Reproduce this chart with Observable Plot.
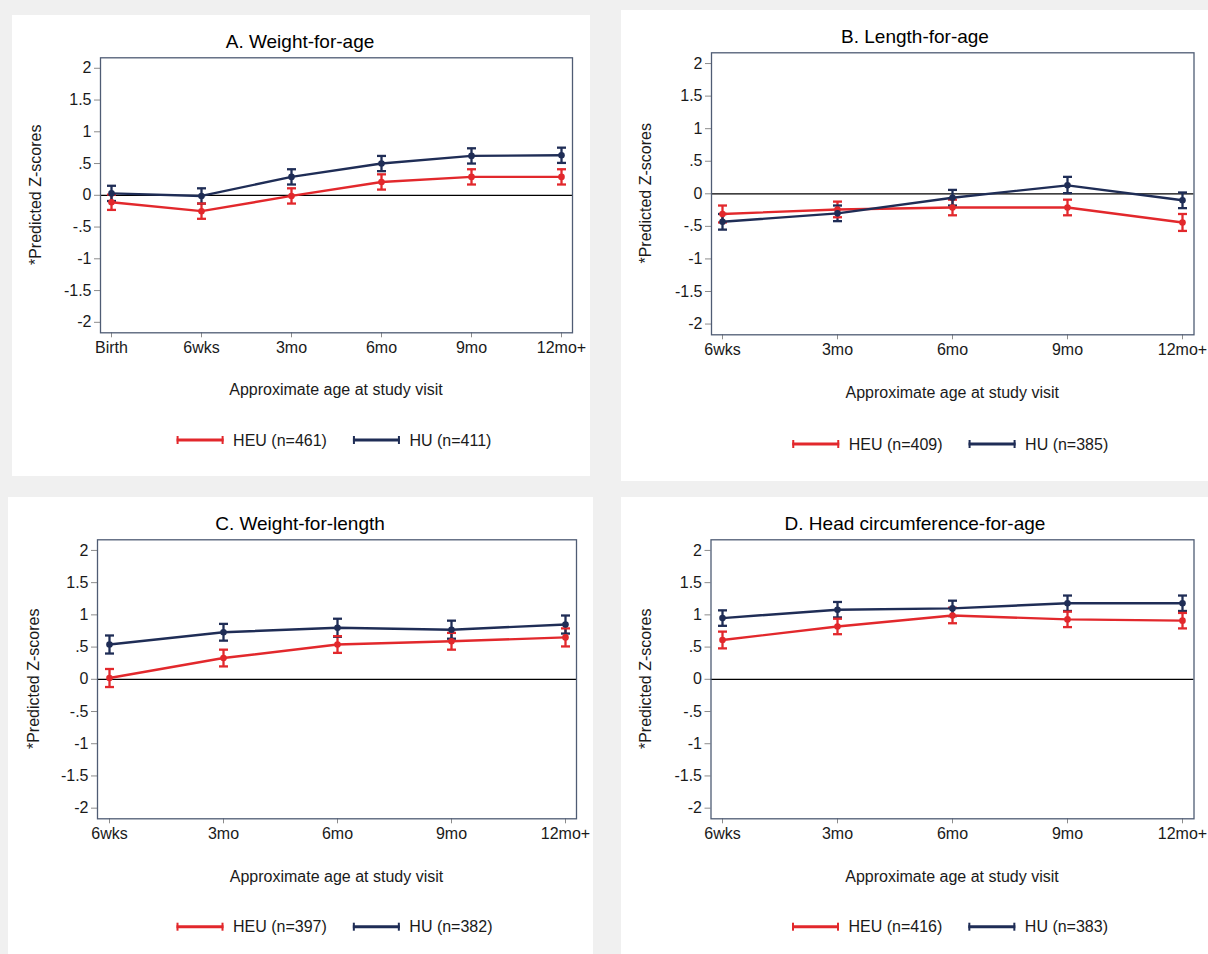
<!DOCTYPE html>
<html><head><meta charset="utf-8">
<script src="https://cdn.jsdelivr.net/npm/d3@7"></script>
<script src="https://cdn.jsdelivr.net/npm/@observablehq/plot@0.6"></script>
<style>
html,body{margin:0;padding:0;background:#f0f0f0;}
#page{position:relative;width:1208px;height:954px;overflow:hidden;background:#f0f0f0;font-family:"Liberation Sans",Arial,sans-serif;}
.card{position:absolute;background:#fff;}
.card svg{display:block;position:absolute;left:0;top:0;}
#overlay{position:absolute;left:0;top:0;pointer-events:none;}
</style></head><body><div id="page"></div>
<script>
// ---------- DATA ----------
const agesA = ["Birth", "6wks", "3mo", "6mo", "9mo", "12mo+"];
const agesBCD = ["6wks", "3mo", "6mo", "9mo", "12mo+"];
const yTicks = [-2, -1.5, -1, -0.5, 0, 0.5, 1, 1.5, 2];
const seriesNames = ["HEU", "HU"];

// A. Weight-for-age
const wfaHEU   = [-0.11, -0.25, -0.01, 0.21, 0.29, 0.29];
const wfaHEUlo = [-0.23, -0.37, -0.13, 0.09, 0.17, 0.17];
const wfaHEUhi = [ 0.01, -0.13,  0.11, 0.33, 0.41, 0.41];
const wfaHU    = [ 0.03, -0.01,  0.29, 0.50, 0.62, 0.63];
const wfaHUlo  = [-0.09, -0.13,  0.17, 0.38, 0.50, 0.51];
const wfaHUhi  = [ 0.15,  0.11,  0.41, 0.62, 0.74, 0.75];
const wfaN = [461, 411];

// B. Length-for-age
const lfaHEU   = [-0.31, -0.24, -0.21, -0.21, -0.44];
const lfaHEUlo = [-0.44, -0.36, -0.33, -0.33, -0.57];
const lfaHEUhi = [-0.18, -0.12, -0.09, -0.09, -0.31];
const lfaHU    = [-0.43, -0.30, -0.06,  0.13, -0.10];
const lfaHUlo  = [-0.55, -0.42, -0.18,  0.01, -0.22];
const lfaHUhi  = [-0.31, -0.18,  0.06,  0.26,  0.02];
const lfaN = [409, 385];

// C. Weight-for-length
const wflHEU   = [ 0.02, 0.33, 0.54, 0.59, 0.65];
const wflHEUlo = [-0.12, 0.20, 0.41, 0.46, 0.51];
const wflHEUhi = [ 0.16, 0.46, 0.67, 0.72, 0.79];
const wflHU    = [ 0.54, 0.73, 0.80, 0.77, 0.85];
const wflHUlo  = [ 0.40, 0.60, 0.66, 0.63, 0.71];
const wflHUhi  = [ 0.68, 0.86, 0.94, 0.91, 0.99];
const wflN = [397, 382];

// D. Head circumference-for-age
const hcaHEU   = [0.61, 0.82, 0.99, 0.93, 0.91];
const hcaHEUlo = [0.48, 0.70, 0.87, 0.81, 0.79];
const hcaHEUhi = [0.74, 0.94, 1.11, 1.05, 1.03];
const hcaHU    = [0.95, 1.08, 1.10, 1.18, 1.18];
const hcaHUlo  = [0.83, 0.96, 0.98, 1.06, 1.06];
const hcaHUhi  = [1.07, 1.20, 1.22, 1.30, 1.30];
const hcaN = [416, 383];

const titles = ["A. Weight-for-age", "B. Length-for-age", "C. Weight-for-length", "D. Head circumference-for-age"];
const xTitle = "Approximate age at study visit";
const yTitle = "*Predicted Z-scores";

// ---------- STYLE / LAYOUT ----------
const RED = "#e2282c", NAVY = "#1f2d56", FRAME = "#4f5c74", TICK = "#8c8c8c", TEXT = "#1a1a1a";
const FONT = "Liberation Sans, Arial, sans-serif";

function rows(ages, vals, lo, hi, s) {
  return ages.map((a, i) => ({age: a, series: s, v: vals[i], lo: lo[i], hi: hi[i]}));
}

const panels = [
  {title: titles[0], ages: agesA, n: wfaN,
   data: [...rows(agesA, wfaHEU, wfaHEUlo, wfaHEUhi, "HEU"), ...rows(agesA, wfaHU, wfaHUlo, wfaHUhi, "HU")],
   card: {x: 12, y: 15, w: 578, h: 461}, frame: {l: 100, r: 572, t: 57.3, b: 332.3}, pad: 0.11,
   titleY: 47.7, titleX: 300, xTitleY: 395, legendY: 440, yLabelX: 41},
  {title: titles[1], ages: agesBCD, n: lfaN,
   data: [...rows(agesBCD, lfaHEU, lfaHEUlo, lfaHEUhi, "HEU"), ...rows(agesBCD, lfaHU, lfaHUlo, lfaHUhi, "HU")],
   card: {x: 621, y: 10, w: 587, h: 471}, frame: {l: 711, r: 1193.5, t: 52.3, b: 334.3}, pad: 0.09,
   titleY: 43.3, titleX: 915, xTitleY: 398, legendY: 444, yLabelX: 651},
  {title: titles[2], ages: agesBCD, n: wflN,
   data: [...rows(agesBCD, wflHEU, wflHEUlo, wflHEUhi, "HEU"), ...rows(agesBCD, wflHU, wflHUlo, wflHUhi, "HU")],
   card: {x: 8, y: 497, w: 585, h: 457}, frame: {l: 97, r: 576, t: 539.3, b: 818.3}, pad: 0.094,
   titleY: 530, titleX: 300, xTitleY: 881.7, legendY: 926.7, yLabelX: 38.5},
  {title: titles[3], ages: agesBCD, n: hcaN,
   data: [...rows(agesBCD, hcaHEU, hcaHEUlo, hcaHEUhi, "HEU"), ...rows(agesBCD, hcaHU, hcaHUlo, hcaHUhi, "HU")],
   card: {x: 621, y: 497, w: 587, h: 457}, frame: {l: 710.5, r: 1193.5, t: 539.3, b: 818.3}, pad: 0.09,
   titleY: 530, titleX: 915, xTitleY: 881.7, legendY: 926.7, yLabelX: 651}
];

const capSymbol = {draw(ctx) { ctx.moveTo(-4.5, 0); ctx.lineTo(4.5, 0); }};
function fmt(d) { if (d === 0) return "0"; return String(d).replace(/^(-?)0\./, "$1."); }

const page = document.getElementById("page");

for (const p of panels) {
  const c = p.card, f = p.frame;
  const div = document.createElement("div");
  div.className = "card";
  div.style.left = c.x + "px"; div.style.top = c.y + "px";
  div.style.width = c.w + "px"; div.style.height = c.h + "px";
  page.appendChild(div);
  const chart = Plot.plot({
    width: c.w, height: c.h,
    marginLeft: f.l - c.x, marginRight: c.x + c.w - f.r,
    marginTop: f.t - c.y, marginBottom: c.y + c.h - f.b,
    style: {fontFamily: FONT, fontSize: "16px", background: "transparent", color: TEXT, overflow: "visible"},
    x: {type: "point", domain: p.ages, padding: p.pad},
    y: {domain: [-2.165, 2.165]},
    color: {domain: seriesNames, range: [RED, NAVY]},
    marks: [
      Plot.ruleY([0], {stroke: "#000", strokeWidth: 1.2}),
      Plot.axisY({ticks: yTicks, tickFormat: fmt, tickSize: 6, tickPadding: 3, stroke: TICK, label: null, fill: TEXT}),
      Plot.axisX({tickSize: 5, tickPadding: 4, stroke: TICK, label: null, fill: TEXT}),
      Plot.ruleX(p.data, {x: "age", y1: "lo", y2: "hi", stroke: "series", strokeWidth: 2.3}),
      Plot.dot(p.data, {x: "age", y: "lo", symbol: capSymbol, fill: "none", stroke: "series", strokeWidth: 2.3, r: 3}),
      Plot.dot(p.data, {x: "age", y: "hi", symbol: capSymbol, fill: "none", stroke: "series", strokeWidth: 2.3, r: 3}),
      Plot.line(p.data, {x: "age", y: "v", z: "series", stroke: "series", strokeWidth: 2.4}),
      Plot.dot(p.data, {x: "age", y: "v", fill: "series", r: 3.3}),
      Plot.frame({stroke: FRAME, strokeWidth: 1.3})
    ]
  });
  div.appendChild(chart);
}

// ---------- overlay text: titles, axis titles, legends ----------
const svg = d3.select(page).append("svg").attr("id", "overlay")
  .attr("width", 1208).attr("height", 954)
  .style("font-family", FONT).style("fill", TEXT);

for (const p of panels) {
  const f = p.frame;
  const cx = (f.l + f.r) / 2;
  svg.append("text").attr("x", p.titleX).attr("y", p.titleY)
    .attr("text-anchor", "middle").attr("font-size", 19).attr("fill", "#000").text(p.title);
  svg.append("text").attr("x", cx).attr("y", p.xTitleY)
    .attr("text-anchor", "middle").attr("font-size", 16).text(xTitle);
  svg.append("text").attr("transform", `translate(${p.yLabelX},${(f.t + f.b) / 2}) rotate(-90)`)
    .attr("text-anchor", "middle").attr("font-size", 16).text(yTitle);

  const g = svg.append("g");
  let x = 0;
  seriesNames.forEach((s, i) => {
    const col = i === 0 ? RED : NAVY;
    g.append("line").attr("x1", x).attr("x2", x + 47).attr("y1", 0).attr("y2", 0)
      .attr("stroke", col).attr("stroke-width", 3);
    g.append("line").attr("x1", x + 1).attr("x2", x + 1).attr("y1", -4).attr("y2", 4)
      .attr("stroke", col).attr("stroke-width", 2);
    g.append("line").attr("x1", x + 46).attr("x2", x + 46).attr("y1", -4).attr("y2", 4)
      .attr("stroke", col).attr("stroke-width", 2);
    const t = g.append("text").attr("x", x + 56.5).attr("y", 5.5)
      .attr("font-size", 16).text(`${s} (n=${p.n[i]})`);
    x += 56.5 + t.node().getComputedTextLength() + 26;
  });
  const total = x - 26;
  g.attr("transform", `translate(${cx - 2 - total / 2},${p.legendY})`);
}
</script>
</body></html>
